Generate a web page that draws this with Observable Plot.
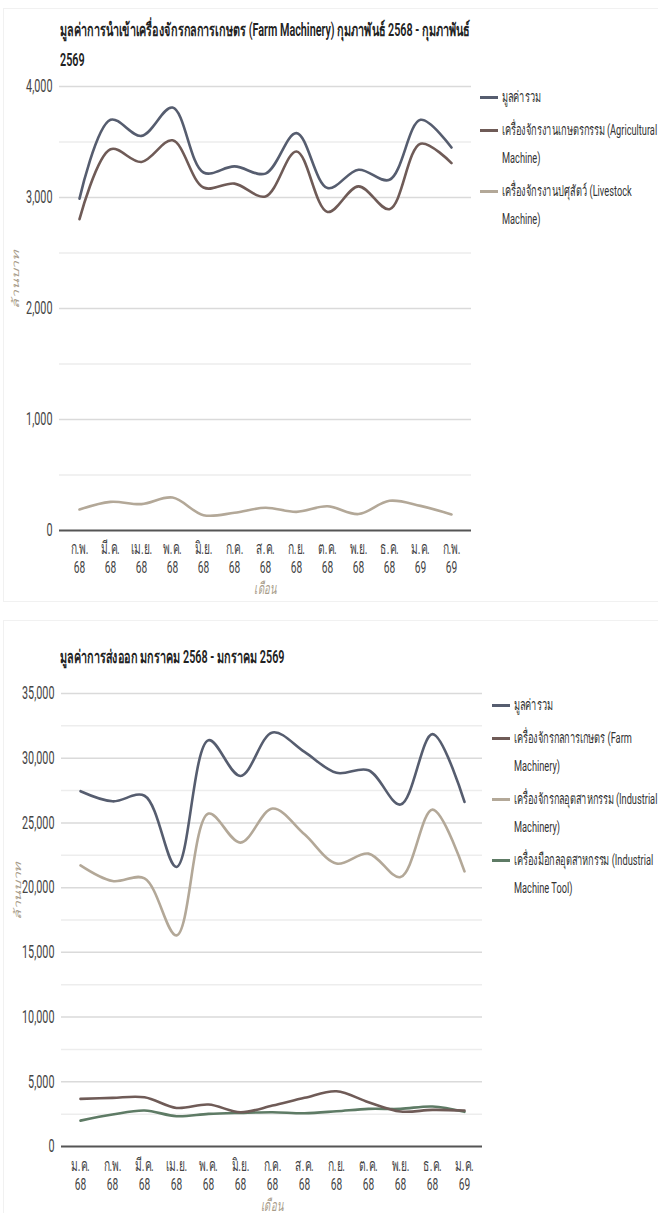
<!DOCTYPE html>
<html><head><meta charset="utf-8">
<script src="https://cdn.jsdelivr.net/npm/d3@7"></script>
<script src="https://cdn.jsdelivr.net/npm/@observablehq/plot@0.6"></script>
<style>
html,body{margin:0;padding:0;background:#fff;}
body{width:658px;height:1213px;position:relative;overflow:hidden;font-family:Roboto,"Noto Sans","DejaVu Sans",sans-serif;}
.card{position:absolute;left:3px;width:720px;border:1px solid #f1f1f1;}
.abs{position:absolute;}
.sq{display:inline-block;white-space:nowrap;transform:scaleX(0.6);transform-origin:0 50%;}
.title{font-size:18px;font-weight:600;color:#222;line-height:30px;white-space:nowrap;}
.legend{font-size:15.4px;color:#333;line-height:28px;white-space:nowrap;}
.item{position:relative;padding-left:22px;margin-bottom:5px;}
.sw{position:absolute;left:0;top:13px;width:18px;height:3px;}
</style></head><body>
<div class="card" style="top:8px;height:592px"></div>
<div class="card" style="top:620px;height:600px"></div>
<div class="title abs" style="left:60px;top:15px"><span class="sq">มูลค่าการนำเข้าเครื่องจักรกลการเกษตร (Farm Machinery) กุมภาพันธ์ 2568 - กุมภาพันธ์</span><br><span class="sq">2569</span></div>
<div class="title abs" style="left:60px;top:642px"><span class="sq">มูลค่าการส่งออก มกราคม 2568 - มกราคม 2569</span></div>
<div id="c1" class="abs" style="left:0;top:70px"></div>
<div id="c2" class="abs" style="left:0;top:680px"></div>
<div id="l1" class="legend abs" style="left:480px;top:83px"></div>
<div id="l2" class="legend abs" style="left:492px;top:691px"></div>
<script>
// ---- Chart 1: import of farm machinery (million baht) ----
const months1 = ["ก.พ. 68","มี.ค. 68","เม.ย. 68","พ.ค. 68","มิ.ย. 68","ก.ค. 68","ส.ค. 68","ก.ย. 68","ต.ค. 68","พ.ย. 68","ธ.ค. 68","ม.ค. 69","ก.พ. 69"];
const total1 = [2990, 3700, 3555, 3810, 3225, 3280, 3215, 3580, 3085, 3250, 3160, 3700, 3450];
const agri1  = [2805, 3435, 3320, 3515, 3090, 3125, 3010, 3415, 2870, 3100, 2895, 3485, 3310];
const live1  = [189, 258, 238, 297, 138, 160, 205, 168, 218, 148, 268, 222, 145];
const yTicks1 = [0, 1000, 2000, 3000, 4000];
const yMinor1 = [500, 1500, 2500, 3500];
const names1 = ["มูลค่ารวม", "เครื่องจักรงานเกษตรกรรม (Agricultural\nMachine)", "เครื่องจักรงานปศุสัตว์ (Livestock\nMachine)"];

// ---- Chart 2: export (million baht) ----
const months2 = ["ม.ค. 68","ก.พ. 68","มี.ค. 68","เม.ย. 68","พ.ค. 68","มิ.ย. 68","ก.ค. 68","ส.ค. 68","ก.ย. 68","ต.ค. 68","พ.ย. 68","ธ.ค. 68","ม.ค. 69"];
const total2 = [27450, 26670, 27100, 21600, 31390, 28630, 31990, 30490, 28870, 29070, 26420, 31860, 26620];
const farm2  = [3680, 3760, 3800, 2980, 3240, 2650, 3160, 3760, 4270, 3420, 2700, 2830, 2780];
const ind2   = [21720, 20510, 20720, 16310, 25720, 23480, 26110, 24120, 21860, 22630, 20820, 26030, 21260];
const tool2  = [2000, 2470, 2780, 2340, 2520, 2600, 2650, 2570, 2720, 2910, 2910, 3090, 2680];
const yTicks2 = [0, 5000, 10000, 15000, 20000, 25000, 30000, 35000];
const yMinor2 = [2500, 7500, 12500, 17500, 22500, 27500, 32500];
const names2 = ["มูลค่ารวม", "เครื่องจักรกลการเกษตร (Farm\nMachinery)", "เครื่องจักรกลอุตสาหกรรม (Industrial\nMachinery)", "เครื่องมือกลอุตสาหกรรม (Industrial\nMachine Tool)"];

const S = 0.6;
const FONT = 'Roboto, "Noto Sans", "DejaVu Sans", sans-serif';
const C_TOTAL = "#565d6f", C_BROWN = "#6f5b57", C_TAN = "#b3a898", C_GREEN = "#5e7b65";
const AX = "#a89c8a";
const fmt = d3.format(",");

function squish(svg) {
  svg.querySelectorAll("text").forEach(t => {
    let tr = t.getAttribute("transform") || "";
    if (/rotate/.test(tr)) tr = tr.replace(/rotate/, `scale(${S},1) rotate`);
    else tr += ` scale(${S},1)`;
    t.setAttribute("transform", tr.trim());
  });
  return svg;
}

function makeChart({months, series, domain, ticks, minor, width, height, mt, mb, ml, mr, tickDy1, tickDy2, xTitleDy}) {
  const lines = series.map(([vals, color]) =>
    Plot.line(months, {x: d => d, y: (d, i) => vals[i], stroke: color, strokeWidth: 2.6, curve: "catmull-rom"}));
  return squish(Plot.plot({
    width, height, marginTop: mt, marginBottom: mb, marginLeft: ml, marginRight: mr,
    x: {type: "point", domain: months, padding: 0.5, axis: null},
    y: {domain, axis: null},
    style: {fontFamily: FONT, fontSize: "17px", color: "#444", background: "transparent", overflow: "visible"},
    marks: [
      Plot.ruleY(minor, {stroke: "#ededed", strokeWidth: 1.5}),
      Plot.ruleY(ticks.filter(v => v > 0), {stroke: "#dadada", strokeWidth: 1.5}),
      Plot.ruleY([0], {stroke: "#555", strokeWidth: 2}),
      ...lines,
      Plot.text(ticks, {y: d => d, frameAnchor: "left", lineAnchor: "middle", dx: -7, textAnchor: "end", text: d => fmt(d), fill: "#444", fontSize: 18}),
      Plot.text(months, {x: d => d, frameAnchor: "bottom", lineAnchor: "middle", dy: tickDy1, text: d => d.split(" ")[0], fill: "#444"}),
      Plot.text(months, {x: d => d, frameAnchor: "bottom", lineAnchor: "middle", dy: tickDy2, text: d => d.split(" ")[1], fill: "#444"}),
      Plot.text(["เดือน"], {frameAnchor: "bottom", lineAnchor: "middle", dy: xTitleDy, text: d => d, fontStyle: "italic", fill: AX, fontSize: 16}),
      Plot.text(["ล้านบาท"], {frameAnchor: "left", lineAnchor: "middle", dx: -44, rotate: -90, text: d => d, fontStyle: "italic", fill: AX, fontSize: 16})
    ]
  }));
}

document.getElementById("c1").append(makeChart({
  months: months1,
  series: [[live1, C_TAN], [agri1, C_BROWN], [total1, C_TOTAL]],
  domain: [0, 4000], ticks: yTicks1, minor: yMinor1,
  width: 480, height: 540, mt: 16, mb: 80, ml: 59, mr: 9,
  tickDy1: 18, tickDy2: 37, xTitleDy: 58
}));

document.getElementById("c2").append(makeChart({
  months: months2,
  series: [[tool2, C_GREEN], [ind2, C_TAN], [farm2, C_BROWN], [total2, C_TOTAL]],
  domain: [0, 35000], ticks: yTicks2, minor: yMinor2,
  width: 490, height: 533, mt: 13, mb: 67, ml: 61, mr: 8,
  tickDy1: 19, tickDy2: 38, xTitleDy: 59
}));

function legend(el, names, colors) {
  names.forEach((n, i) => {
    const item = document.createElement("div");
    item.className = "item";
    const sw = document.createElement("div");
    sw.className = "sw"; sw.style.background = colors[i];
    item.append(sw);
    n.split("\n").forEach((line, j) => {
      if (j) item.append(document.createElement("br"));
      const s = document.createElement("span");
      s.className = "sq"; s.textContent = line;
      item.append(s);
    });
    el.append(item);
  });
}
legend(document.getElementById("l1"), names1, [C_TOTAL, C_BROWN, C_TAN]);
legend(document.getElementById("l2"), names2, [C_TOTAL, C_BROWN, C_TAN, C_GREEN]);
</script>
</body></html>
